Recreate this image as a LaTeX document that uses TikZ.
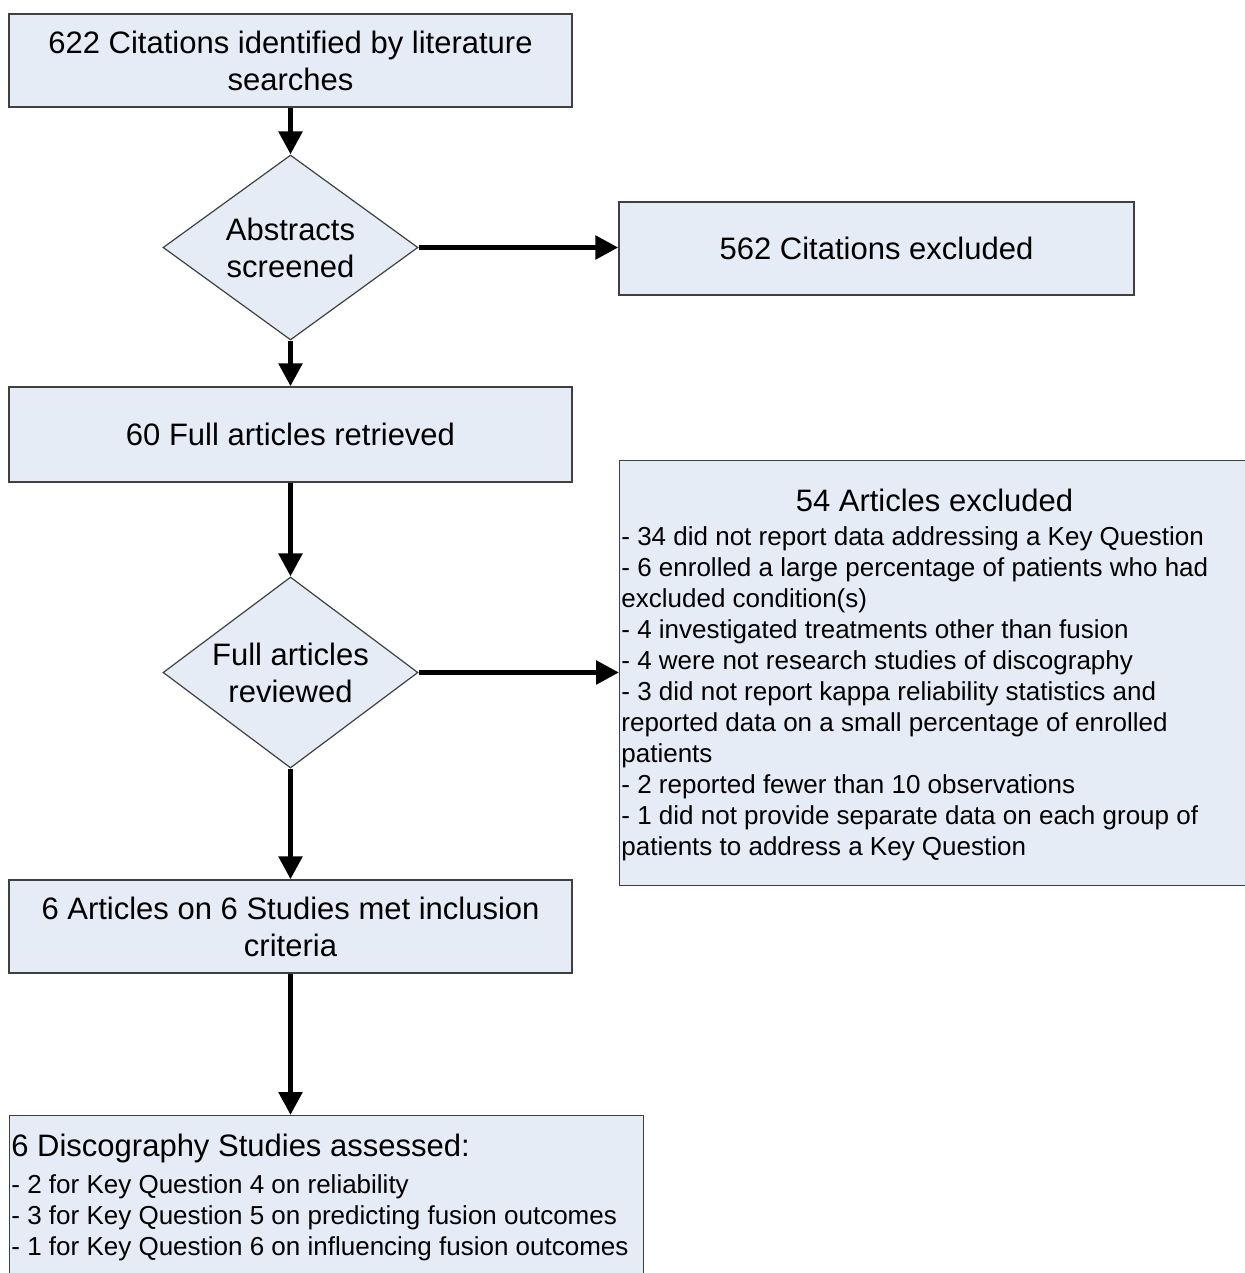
\documentclass[tikz,border=0pt]{standalone}
\usepackage{fontspec}
\setmainfont{Liberation Sans}
\usetikzlibrary{shapes.geometric,arrows.meta}
\definecolor{boxfill}{RGB}{230,236,246}
\definecolor{boxline}{RGB}{64,64,64}
\newcommand{\mainsize}{\fontsize{15.5}{18.5}\selectfont}
\newcommand{\listsize}{\fontsize{13}{15.5}\selectfont}
\begin{document}
\begin{tikzpicture}[x=0.5pt,y=-0.5pt,
  box/.style={draw=boxline, line width=0.7pt, fill=boxfill, inner sep=0pt,
    align=center, font=\mainsize},
  decision/.style={diamond, aspect=1.378, draw=boxline, line width=0.6pt,
    fill=boxfill, inner sep=0pt, align=center, font=\mainsize},
  listtext/.style={anchor=north west, inner sep=0pt, align=left, font=\listsize},
  flow/.style={line width=2.75pt, -{Triangle[length=11.5pt,width=11.5pt]}},
]
\useasboundingbox (0,0) rectangle (1244,1273);

% main column
\node[box, minimum width=281.5pt, minimum height=46.5pt] (search) at (290.5,60.5)
  {622 Citations identified by literature\\searches};
\node[decision, minimum width=127.5pt, minimum height=92.5pt] (screen) at (290.5,247.5)
  {Abstracts\\screened};
\node[box, minimum width=281.5pt, minimum height=47.5pt] (retrieved) at (290.5,434.5)
  {60 Full articles retrieved};
\node[decision, minimum width=127.5pt, minimum height=95.5pt] (review) at (290.5,672.5)
  {Full articles\\reviewed};
\node[box, minimum width=281.5pt, minimum height=46.5pt] (included) at (290.5,926.5)
  {6 Articles on 6 Studies met inclusion\\criteria};
\node[box, anchor=north west, minimum width=317pt, minimum height=100pt] (assessed) at (9,1115) {};
\node[anchor=west, inner sep=0pt, font=\mainsize] (assessedtitle) at (11,1148)
  {6 Discography Studies assessed:};
\node[listtext] (assessedlist) at (11,1174.5)
  {- 2 for Key Question 4 on reliability\\
   - 3 for Key Question 5 on predicting fusion outcomes\\
   - 1 for Key Question 6 on influencing fusion outcomes};

% exclusion boxes
\node[box, minimum width=257.5pt, minimum height=46.5pt] (citexcl) at (876.5,248.5)
  {562 Citations excluded};
\node[box, anchor=north west, minimum width=315.5pt, minimum height=212.5pt] (artexcl) at (619,460) {};
\node[inner sep=0pt, font=\mainsize] (artexcltitle) at (934.5,500) {54 Articles excluded};
\node[listtext] (artexcllist) at (621,526)
  {- 34 did not report data addressing a Key Question\\
   - 6 enrolled a large percentage of patients who had\\
   excluded condition(s)\\
   - 4 investigated treatments other than fusion\\
   - 4 were not research studies of discography\\
   - 3 did not report kappa reliability statistics and\\
   reported data on a small percentage of enrolled\\
   patients\\
   - 2 reported fewer than 10 observations\\
   - 1 did not provide separate data on each group of\\
   patients to address a Key Question};

% connectors
\draw[flow] (search.south) -- (screen.north);
\draw[flow] (screen.east) -- (screen.east -| citexcl.west);
\draw[flow] (screen.south) -- (retrieved.north);
\draw[flow] (retrieved.south) -- (review.north);
\draw[flow] (review.east) -- (review.east -| artexcl.west);
\draw[flow] (review.south) -- (included.north);
\draw[flow] (included.south) -- (included.south |- assessed.north);
\end{tikzpicture}
\end{document}
